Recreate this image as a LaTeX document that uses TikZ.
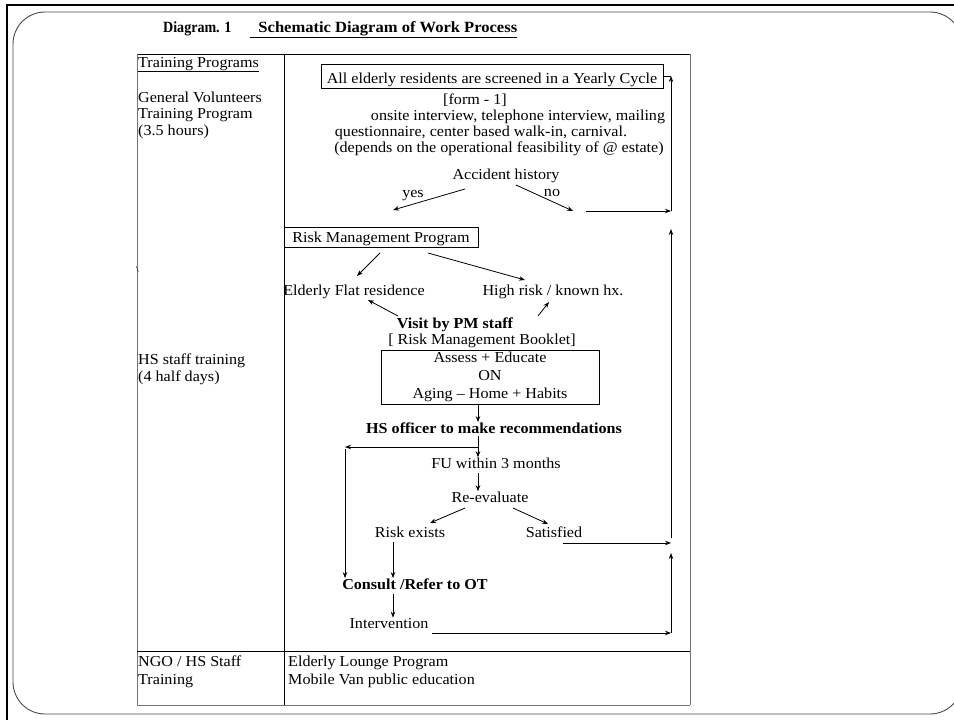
\documentclass[tikz,border=0pt]{standalone}
\usepackage{fontspec}
\setmainfont{Liberation Serif}[FakeStretch=1.06]
\usetikzlibrary{arrows.meta,calc}
\begin{document}
\begin{tikzpicture}[x=1pt,y=-1pt,
  every node/.style={inner sep=0pt, font=\fontsize{15.2}{17}\selectfont},
  t/.style={anchor=base},
  tl/.style={anchor=base west},
  tb/.style={anchor=base, font=\fontsize{15.2}{17}\selectfont\bfseries},
  titlefont/.style={font=\fontsize{15.6}{17}\selectfont\bfseries},
  bx/.style={draw, line width=0.8pt, anchor=base, text depth=1pt, inner ysep=4pt, inner xsep=4pt},
  arr/.style={-{Stealth[length=6pt,width=4.5pt]}, line width=0.8pt},
  rule/.style={line width=0.8pt},
  faint/.style={line width=0.6pt, black!55}]
\useasboundingbox (0,0) rectangle (954,720);
\clip (0,0) rectangle (954,720);
\fill[white] (0,0) rectangle (954,720);
% slide frame
\draw[line width=2.8pt] (7,722) -- (7,5) -- (956,5);
\draw[line width=0.9pt, black!70, rounded corners=32pt] (13,12) rectangle (962,714);

% title
\node[tl, titlefont] (title1) at (163,32) {\addfontfeatures{FakeStretch=0.9}Diagram. 1};
\node[tl, titlefont] (title2) at (250,32) {\underline{\ \ Schematic Diagram of Work Process}};

% table lines
\draw[rule] (137,54) -- (690,54);
\draw[faint] (137,54) -- (137,705);
\draw[faint] (690,54) -- (690,705);
\draw[rule] (284,54) -- (284,705);
\draw[rule] (137,651) -- (690,651);
\draw[faint] (137,705) -- (690,705);

% left column
\node[tl] (tp) at (138,67) {\underline{Training Programs}};
\node[tl] (gv1) at (138,102) {General Volunteers};
\node[tl] (gv2) at (138,118) {Training Program};
\node[tl] (gv3) at (138,135) {(3.5 hours)};
\node[tl, font=\fontsize{9}{10}\selectfont] (bs) at (136,272) {\textbackslash};
\node[tl] (hs1) at (138,364) {HS staff training};
\node[tl] (hs2) at (138,381) {(4 half days)};
\node[tl] (ngo1) at (138,666) {NGO / HS Staff};
\node[tl] (ngo2) at (138,684) {Training};
\node[tl] (el) at (288,666) {Elderly Lounge Program};
\node[tl] (mv) at (288,684) {Mobile Van public education};

% flow
\node[bx, text height=15pt, minimum width=342pt] (yearly) at (492,83) {All elderly residents are screened in a Yearly Cycle};
\node[t] (form) at (475,104) {[form - 1]};
\node[t] (onsite) at (518,120) {onsite interview, telephone interview, mailing};
\node[t] (quest) at (481,136) {questionnaire, center based walk-in, carnival.};
\node[t] (depends) at (499,152) {(depends on the operational feasibility of @ estate)};
\node[t] (acc) at (506,179) {Accident history};
\node[t] (yes) at (413,197) {yes};
\node[t] (no) at (552,196) {no};
\node[bx, text height=11pt, minimum width=194pt] (rmp) at (381,242) {Risk Management Program};
\node[t] (efr) at (354,295) {Elderly Flat residence};
\node[t] (hr) at (553,295) {High risk / known hx.};
\node[tb] (visit) at (455,328) {Visit by PM staff};
\node[t] (booklet) at (482,344) {[ Risk Management Booklet]};
\node[draw, line width=0.8pt, align=center, minimum width=218pt, minimum height=54pt,
      font=\fontsize{15.2}{18}\selectfont] (assess) at (490,377) {Assess + Educate\\ON\\Aging – Home + Habits};
\node[tb] (hsoff) at (494,433) {HS officer to make recommendations};
\node[t] (fu) at (496,468) {FU within 3 months};
\node[t] (reeval) at (490,502) {Re-evaluate};
\node[t] (risk) at (410,537) {Risk exists};
\node[t] (sat) at (554,537) {Satisfied};
\node[tb] (consult) at (415,589) {Consult /Refer to OT};
\node[t] (interv) at (389,628) {Intervention};

% connector coordinates
\coordinate (yesS) at (465,189);
\coordinate (yesE) at (393,210);
\coordinate (noS) at (516,185);
\coordinate (noE) at (573,211);
\coordinate (noL) at (586,211);
\coordinate (j0) at (671,76);
\coordinate (j1) at (671,211);
\coordinate (j1b) at (671,229);
\coordinate (j2) at (671,543);
\coordinate (j2b) at (671,553);
\coordinate (j3) at (671,633);
\coordinate (r1) at (380,253);
\coordinate (r1e) at (357,276);
\coordinate (r2) at (428,253);
\coordinate (r2e) at (525,280);
\coordinate (v1) at (398,316);
\coordinate (v1e) at (368,300);
\coordinate (v2) at (538,316);
\coordinate (v2e) at (549,302);
\coordinate (ax) at (478,0);
\coordinate (b1) at (478,447);
\coordinate (l1) at (345,447);
\coordinate (rs1) at (465,508);
\coordinate (rs2) at (430,523);
\coordinate (ss1) at (513,508);
\coordinate (ss2) at (548,524);
\coordinate (satL) at (563,543);
\coordinate (rx) at (393,0);
\coordinate (intL) at (432,633);

% connectors
\draw[rule] (yearly.east) -- (j0);
\draw[arr] (yesS) -- (yesE);
\draw[arr] (noS) -- (noE);
\draw[arr] (noL) -- (j1);
\draw[arr] (j1) -- (j0);
\draw[arr] (j2) ++(0,-5) -- (j1b);
\draw[arr] (r1) -- (r1e);
\draw[arr] (r2) -- (r2e);
\draw[arr] (v1) -- (v1e);
\draw[arr] (v2) -- (v2e);
\draw[arr] (assess.south -| ax) -- (hsoff.north -| ax);
\draw[arr, shorten <=3pt] (hsoff.south -| ax) -- (fu.north -| ax);
\draw[arr] (b1) -- (l1);
\draw[arr] ([yshift=-2pt]l1) -- (consult.north -| l1);
\draw[arr, shorten <=5pt] (fu.south -| ax) -- (reeval.north -| ax);
\draw[arr] (rs1) -- (rs2);
\draw[arr] (ss1) -- (ss2);
\draw[arr] (satL) -- (j2);
\draw[arr, shorten <=5pt] (risk.south -| rx) -- (consult.north -| rx);
\draw[arr, shorten <=5pt] (consult.south -| rx) -- (interv.north -| rx);
\draw[arr] (intL) -- (j3);
\draw[arr] (j3) -- (j2b);
\end{tikzpicture}
\end{document}
